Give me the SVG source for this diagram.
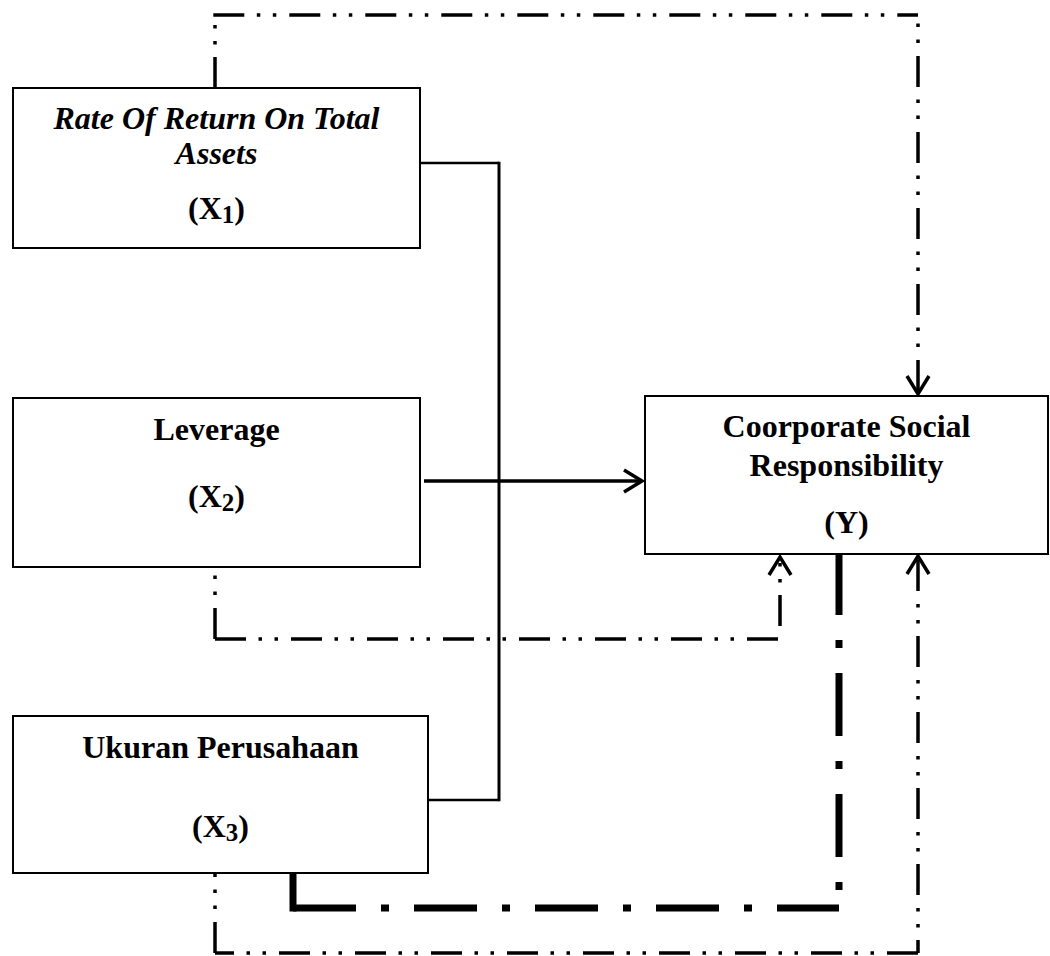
<svg xmlns="http://www.w3.org/2000/svg" width="1050" height="956" viewBox="0 0 1050 956">
<style>
.box{fill:#fff;stroke:#000;stroke-width:2}
.t{font-family:"Liberation Serif","Times New Roman",serif;font-weight:bold;font-size:32px;text-anchor:middle;fill:#000}
.it{font-style:italic}
.sub{font-size:25px}
.solid{fill:none;stroke:#000;stroke-width:2.5}
.dd{fill:none;stroke:#000;stroke-width:3.5;stroke-dasharray:31 12.5 3.5 12.5 3.5 13}
.thick{fill:none;stroke:#000;stroke-width:7;stroke-dasharray:63 25 8 25}
</style>
<defs>
<marker id="arr" markerUnits="userSpaceOnUse" markerWidth="40" markerHeight="40" viewBox="-20 -20 40 40" refX="0" refY="0" orient="auto" overflow="visible">
<path d="M-18,-11 L0,0 L-18,11" fill="none" stroke="#000" stroke-width="3.5"/>
</marker>
</defs>
<rect width="1050" height="956" fill="#fff"/>
<g id="connectors">
<path class="solid" d="M420,163 H499 M499,800 H428"/>
<path class="solid" d="M499,161.8 V801.2" style="stroke-width:3"/>
<path class="solid" d="M424,481 H642" style="stroke-width:3.5" marker-end="url(#arr)"/>
<path class="dd" d="M215,88 V15"/>
<path class="dd" d="M213.3,15 H918"/>
<path class="dd" d="M918,15 V394" style="stroke-dashoffset:35" marker-end="url(#arr)"/>
<path class="dd" d="M215,567 V640.7" style="stroke-dashoffset:35"/>
<path class="dd" d="M215,639 H780"/>
<path class="dd" d="M780,639 V557" style="stroke-dashoffset:63" marker-end="url(#arr)"/>
<path class="dd" d="M215,873 V954.7" style="stroke-dashoffset:27"/>
<path class="dd" d="M215,953 H918" style="stroke-dashoffset:12"/>
<path class="dd" d="M918,953 V556" style="stroke-dashoffset:18" marker-end="url(#arr)"/>
<path d="M293,873 V911.5" fill="none" stroke="#000" stroke-width="7"/>
<path class="thick" d="M293,908 H839"/>
<path class="thick" d="M839,908 V554" style="stroke-dashoffset:70"/>
</g>
<g id="x1">
<rect class="box" x="13" y="88" width="407" height="160"/>
<text class="t it" x="216.5" y="129">Rate Of Return On Total</text>
<text class="t it" x="216.5" y="164">Assets</text>
<text class="t" x="216.5" y="219">(X<tspan class="sub" dy="4">1</tspan><tspan dy="-4">)</tspan></text>
</g>
<g id="x2">
<rect class="box" x="13" y="398" width="407" height="169"/>
<text class="t" x="216.5" y="440">Leverage</text>
<text class="t" x="216.5" y="507">(X<tspan class="sub" dy="4">2</tspan><tspan dy="-4">)</tspan></text>
</g>
<g id="x3">
<rect class="box" x="13" y="716" width="415" height="157"/>
<text class="t" x="220.5" y="758">Ukuran Perusahaan</text>
<text class="t" x="220.5" y="837">(X<tspan class="sub" dy="4">3</tspan><tspan dy="-4">)</tspan></text>
</g>
<g id="y">
<rect class="box" x="645" y="396" width="403" height="158"/>
<text class="t" x="846.5" y="437">Coorporate Social</text>
<text class="t" x="846.5" y="476">Responsibility</text>
<text class="t" x="846.5" y="533">(Y)</text>
</g>
</svg>
